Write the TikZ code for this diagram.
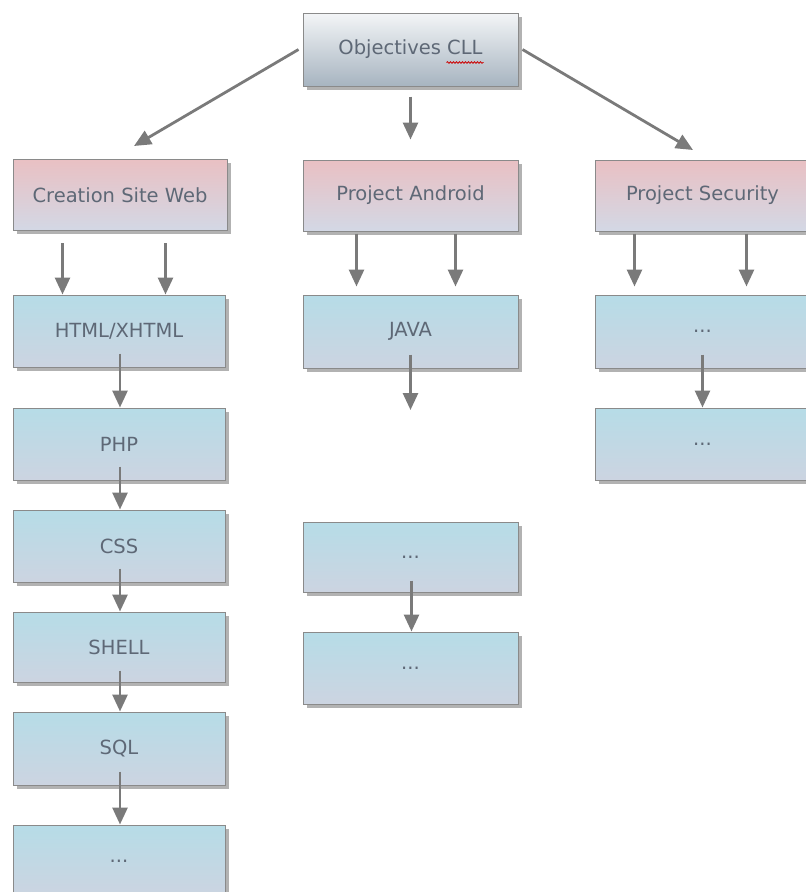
\documentclass[tikz,border=0pt]{standalone}
\usepackage{fontspec}
\setmainfont{DejaVu Sans}
\usetikzlibrary{arrows.meta,shadows,calc,decorations.pathmorphing}
\definecolor{txt}{HTML}{5E6876}
\definecolor{edge}{HTML}{8A8A8A}
\definecolor{arr}{HTML}{7A7A7A}
\definecolor{rootT}{HTML}{F3F5F7}
\definecolor{rootB}{HTML}{A7B4C0}
\definecolor{headT}{HTML}{E9C0C3}
\definecolor{headB}{HTML}{D3D8E5}
\definecolor{leafT}{HTML}{B6DCE7}
\definecolor{leafB}{HTML}{CCD4E1}
\tikzset{
  box/.style={draw=edge, line width=1pt, minimum width=214pt, minimum height=72pt,
    inner sep=0pt, font=\fontsize{19.5}{22}\selectfont, text=txt,
    drop shadow={shadow xshift=3.5pt, shadow yshift=-3.5pt, opacity=0.55, fill=black!55}},
  rootbox/.style={box, top color=rootT, bottom color=rootB, minimum height=73pt},
  headbox/.style={box, top color=headT, bottom color=headB, minimum height=71pt},
  leafbox/.style={box, top color=leafT, bottom color=leafB},
  conn/.style={draw=arr, line width=2.8pt, -{Triangle[width=15pt,length=17pt]}},
  spell/.style={draw=red!80!black, line width=0.8pt, decorate,
    decoration={snake, segment length=3pt, amplitude=0.8pt}},
}
\begin{document}
\begin{tikzpicture}[x=1pt,y=-1pt]
\useasboundingbox (0,0) rectangle (806,892);
% root
\node[rootbox, minimum width=215pt] (root) at (410.5,49.5) {Objectives CLL};
\draw[spell] ($(root.center)+(36,13)$) -- ($(root.center)+(73,13)$);
% headers
\node[headbox] (web) at (120,195) {Creation Site Web};
\node[headbox, minimum width=215pt] (android) at (410.5,195.5) {Project Android};
\node[headbox, minimum width=215pt] (sec) at (702.5,195.5) {Project Security};
% web column
\node[leafbox, minimum width=212pt] (html) at (119,331) {HTML/XHTML};
\node[leafbox, minimum width=212pt] (php) at (119,444) {PHP};
\node[leafbox, minimum width=212pt] (css) at (119,546) {CSS};
\node[leafbox, minimum width=212pt, minimum height=70pt] (shell) at (119,647) {SHELL};
\node[leafbox, minimum width=212pt, minimum height=73pt] (sql) at (119,748.5) {SQL};
\node[leafbox, minimum width=212pt] (webmore) at (119,861) {...};
% android column
\node[leafbox, minimum width=215pt, minimum height=73pt] (java) at (410.5,331.5) {JAVA};
\coordinate (javaend) at (410.5,410);
\node[leafbox, minimum width=215pt, minimum height=70pt] (anda) at (410.5,557) {...};
\node[leafbox, minimum width=215pt] (andb) at (410.5,668) {...};
% security column
\node[leafbox, minimum width=215pt, minimum height=73pt] (seca) at (702.5,331.5) {...};
\node[leafbox, minimum width=215pt] (secb) at (702.5,444) {...};
% connectors from root
\coordinate (rl) at (134,146);
\coordinate (rr) at (693,150);
\draw[conn] ($(root.west)+(-4,0)$) -- (rl);
\draw[conn] ($(root.east)+(4,0)$) -- (rr);
\draw[conn] ($(root.south)+(0,10)$) -- ($(android.north)+(0,-20)$);
% header to leaves
\draw[conn] ($(web.south west)+(50,12)$) -- ($(html.north west)+(50,0)$);
\draw[conn] ($(web.south west)+(153,12)$) -- ($(html.north west)+(153,0)$);
\draw[conn] ($(android.south west)+(54,2)$) -- ($(java.north west)+(54,-8)$);
\draw[conn] ($(android.south west)+(153,2)$) -- ($(java.north west)+(153,-8)$);
\draw[conn] ($(sec.south west)+(40,2)$) -- ($(seca.north west)+(40,-8)$);
\draw[conn] ($(sec.south west)+(152,2)$) -- ($(seca.north west)+(152,-8)$);
% chains
\draw[conn] ($(html.south)+(1,-14)$) -- ($(php.north)+(1,0)$);
\draw[conn] ($(php.south)+(1,-14)$) -- ($(css.north)+(1,0)$);
\draw[conn] ($(css.south)+(1,-14)$) -- ($(shell.north)+(1,0)$);
\draw[conn] ($(shell.south)+(1,-12)$) -- ($(sql.north)+(1,0)$);
\draw[conn] ($(sql.south)+(1,-14)$) -- ($(webmore.north)+(1,0)$);
\draw[conn] ($(java.south)+(0,-14)$) -- (javaend);
\draw[conn] ($(anda.south)+(1,-12)$) -- ($(andb.north)+(1,0)$);
\draw[conn] ($(seca.south)+(0,-14)$) -- ($(secb.north)+(0,0)$);
\end{tikzpicture}
\end{document}
